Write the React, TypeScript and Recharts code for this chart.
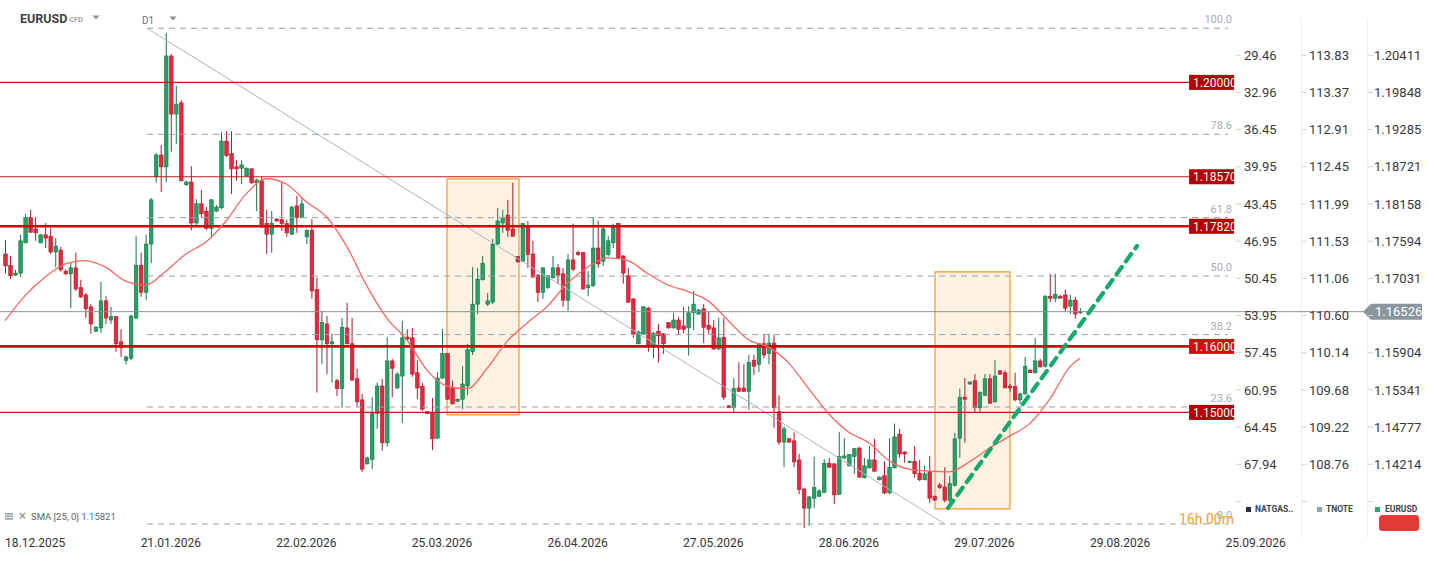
import React from "react";
import {
  ComposedChart,
  Bar,
  Line,
  XAxis,
  YAxis,
  ReferenceLine,
  ReferenceArea,
} from "recharts";

// EURUSD D1 candles, [open, high, low, close], oldest first
const candles: [number, number, number, number][] = [
  [1.1740, 1.1761, 1.1711, 1.1722], [1.1723, 1.1737, 1.1702, 1.1707], [1.1708, 1.1716, 1.1707, 1.1711],
  [1.1711, 1.1769, 1.1705, 1.1760], [1.1757, 1.1801, 1.1756, 1.1795], [1.1795, 1.1807, 1.1772, 1.1773],
  [1.1778, 1.1796, 1.1760, 1.1772], [1.1757, 1.1770, 1.1756, 1.1769], [1.1769, 1.1787, 1.1749, 1.1764],
  [1.1767, 1.1779, 1.1740, 1.1743], [1.1743, 1.1764, 1.1720, 1.1752], [1.1746, 1.1751, 1.1713, 1.1716],
  [1.1714, 1.1717, 1.1708, 1.1710], [1.1710, 1.1728, 1.1658, 1.1719], [1.1719, 1.1742, 1.1684, 1.1687],
  [1.1689, 1.1701, 1.1673, 1.1675], [1.1678, 1.1681, 1.1643, 1.1657], [1.1660, 1.1664, 1.1619, 1.1634],
  [1.1623, 1.1631, 1.1622, 1.1629], [1.1628, 1.1698, 1.1620, 1.1669], [1.1669, 1.1676, 1.1634, 1.1643],
  [1.1640, 1.1660, 1.1634, 1.1645], [1.1645, 1.1646, 1.1592, 1.1604], [1.1607, 1.1626, 1.1584, 1.1598],
  [1.1579, 1.1586, 1.1573, 1.1584], [1.1582, 1.1648, 1.1579, 1.1646], [1.1643, 1.1767, 1.1641, 1.1723],
  [1.1723, 1.1742, 1.1675, 1.1682], [1.1682, 1.1769, 1.1670, 1.1755], [1.1755, 1.1825, 1.1726, 1.1822],
  [1.1857, 1.1893, 1.1848, 1.1890], [1.1890, 1.1905, 1.1834, 1.1872], [1.1872, 1.2075, 1.1849, 1.2040],
  [1.2040, 1.2043, 1.1895, 1.1952], [1.1952, 1.1995, 1.1907, 1.1967], [1.1969, 1.1973, 1.1850, 1.1851],
  [1.1845, 1.1851, 1.1843, 1.1849], [1.1849, 1.1873, 1.1776, 1.1787], [1.1787, 1.1823, 1.1781, 1.1816],
  [1.1816, 1.1837, 1.1795, 1.1801], [1.1805, 1.1811, 1.1776, 1.1779], [1.1779, 1.1823, 1.1764, 1.1822],
  [1.1805, 1.1814, 1.1804, 1.1811], [1.1810, 1.1925, 1.1808, 1.1911], [1.1911, 1.1926, 1.1887, 1.1889],
  [1.1892, 1.1926, 1.1831, 1.1869], [1.1872, 1.1882, 1.1851, 1.1869], [1.1870, 1.1882, 1.1846, 1.1875],
  [1.1858, 1.1871, 1.1857, 1.1870], [1.1869, 1.1870, 1.1846, 1.1848], [1.1848, 1.1854, 1.1805, 1.1852],
  [1.1851, 1.1857, 1.1780, 1.1781], [1.1786, 1.1807, 1.1740, 1.1770], [1.1770, 1.1805, 1.1742, 1.1786],
  [1.1793, 1.1794, 1.1789, 1.1790], [1.1792, 1.1848, 1.1775, 1.1786], [1.1786, 1.1792, 1.1766, 1.1772],
  [1.1770, 1.1813, 1.1769, 1.1811], [1.1813, 1.1828, 1.1772, 1.1795], [1.1795, 1.1825, 1.1794, 1.1816],
  [1.1766, 1.1777, 1.1755, 1.1776], [1.1776, 1.1793, 1.1672, 1.1684], [1.1686, 1.1704, 1.1530, 1.1610],
  [1.1610, 1.1654, 1.1573, 1.1636], [1.1634, 1.1646, 1.1558, 1.1604], [1.1604, 1.1619, 1.1545, 1.1607],
  [1.1548, 1.1551, 1.1525, 1.1536], [1.1536, 1.1643, 1.1507, 1.1629], [1.1628, 1.1666, 1.1603, 1.1604],
  [1.1604, 1.1643, 1.1548, 1.1549], [1.1551, 1.1566, 1.1508, 1.1516], [1.1519, 1.1528, 1.1410, 1.1414],
  [1.1422, 1.1433, 1.1421, 1.1431], [1.1429, 1.1523, 1.1414, 1.1498], [1.1498, 1.1545, 1.1475, 1.1540],
  [1.1540, 1.1551, 1.1442, 1.1454], [1.1454, 1.1614, 1.1448, 1.1578], [1.1578, 1.1581, 1.1523, 1.1567],
  [1.1537, 1.1561, 1.1536, 1.1558], [1.1555, 1.1639, 1.1484, 1.1613], [1.1614, 1.1626, 1.1608, 1.1611],
  [1.1613, 1.1628, 1.1554, 1.1558], [1.1560, 1.1579, 1.1520, 1.1537], [1.1539, 1.1545, 1.1502, 1.1505],
  [1.1501, 1.1502, 1.1498, 1.1498], [1.1499, 1.1522, 1.1443, 1.1460], [1.1461, 1.1561, 1.1460, 1.1552],
  [1.1552, 1.1626, 1.1551, 1.1589], [1.1589, 1.1590, 1.1519, 1.1520], [1.1537, 1.1548, 1.1512, 1.1513],
  [1.1517, 1.1521, 1.1516, 1.1520], [1.1520, 1.1570, 1.1505, 1.1543], [1.1540, 1.1604, 1.1526, 1.1595],
  [1.1592, 1.1720, 1.1587, 1.1664], [1.1664, 1.1719, 1.1649, 1.1702], [1.1701, 1.1737, 1.1700, 1.1726],
  [1.1664, 1.1681, 1.1661, 1.1669], [1.1667, 1.1763, 1.1664, 1.1755], [1.1755, 1.1810, 1.1754, 1.1790],
  [1.1787, 1.1807, 1.1772, 1.1795], [1.1799, 1.1822, 1.1766, 1.1776], [1.1778, 1.1848, 1.1766, 1.1767],
  [1.1736, 1.1737, 1.1727, 1.1728], [1.1729, 1.1787, 1.1728, 1.1786], [1.1782, 1.1790, 1.1719, 1.1739],
  [1.1740, 1.1760, 1.1704, 1.1705], [1.1708, 1.1710, 1.1667, 1.1682], [1.1682, 1.1720, 1.1672, 1.1719],
  [1.1689, 1.1708, 1.1687, 1.1707], [1.1704, 1.1737, 1.1703, 1.1719], [1.1719, 1.1725, 1.1695, 1.1708],
  [1.1710, 1.1719, 1.1660, 1.1670], [1.1670, 1.1740, 1.1654, 1.1731], [1.1731, 1.1786, 1.1714, 1.1717],
  [1.1742, 1.1745, 1.1737, 1.1739], [1.1742, 1.1743, 1.1686, 1.1687], [1.1689, 1.1714, 1.1676, 1.1693],
  [1.1692, 1.1796, 1.1690, 1.1749], [1.1749, 1.1790, 1.1719, 1.1725], [1.1729, 1.1782, 1.1722, 1.1778],
  [1.1739, 1.1767, 1.1736, 1.1760], [1.1757, 1.1786, 1.1749, 1.1782], [1.1786, 1.1787, 1.1733, 1.1734],
  [1.1737, 1.1738, 1.1695, 1.1711], [1.1707, 1.1719, 1.1666, 1.1667], [1.1672, 1.1673, 1.1613, 1.1619],
  [1.1604, 1.1624, 1.1603, 1.1622], [1.1619, 1.1661, 1.1618, 1.1660], [1.1658, 1.1660, 1.1592, 1.1602],
  [1.1601, 1.1622, 1.1582, 1.1620], [1.1623, 1.1634, 1.1575, 1.1616], [1.1619, 1.1620, 1.1589, 1.1604],
  [1.1636, 1.1637, 1.1627, 1.1628], [1.1628, 1.1651, 1.1627, 1.1640], [1.1640, 1.1645, 1.1617, 1.1626],
  [1.1631, 1.1660, 1.1620, 1.1626], [1.1628, 1.1661, 1.1586, 1.1651], [1.1651, 1.1684, 1.1625, 1.1664],
  [1.1649, 1.1657, 1.1648, 1.1655], [1.1657, 1.1664, 1.1605, 1.1629], [1.1632, 1.1652, 1.1619, 1.1626],
  [1.1628, 1.1640, 1.1595, 1.1596], [1.1596, 1.1643, 1.1595, 1.1613], [1.1614, 1.1643, 1.1519, 1.1523],
  [1.1510, 1.1511, 1.1507, 1.1507], [1.1507, 1.1552, 1.1499, 1.1536], [1.1537, 1.1576, 1.1531, 1.1532],
  [1.1537, 1.1573, 1.1531, 1.1532], [1.1532, 1.1587, 1.1504, 1.1576], [1.1579, 1.1587, 1.1557, 1.1570],
  [1.1573, 1.1605, 1.1561, 1.1604], [1.1604, 1.1619, 1.1582, 1.1587], [1.1589, 1.1619, 1.1573, 1.1605],
  [1.1605, 1.1617, 1.1476, 1.1507], [1.1501, 1.1526, 1.1451, 1.1455], [1.1455, 1.1479, 1.1417, 1.1475],
  [1.1460, 1.1461, 1.1454, 1.1455], [1.1457, 1.1470, 1.1417, 1.1425], [1.1428, 1.1437, 1.1376, 1.1383],
  [1.1384, 1.1386, 1.1325, 1.1355], [1.1355, 1.1373, 1.1328, 1.1372], [1.1370, 1.1433, 1.1355, 1.1386],
  [1.1373, 1.1384, 1.1372, 1.1381], [1.1379, 1.1429, 1.1378, 1.1423], [1.1423, 1.1431, 1.1416, 1.1417],
  [1.1422, 1.1423, 1.1361, 1.1375], [1.1376, 1.1470, 1.1375, 1.1433], [1.1431, 1.1461, 1.1429, 1.1434],
  [1.1419, 1.1437, 1.1418, 1.1436], [1.1433, 1.1446, 1.1407, 1.1445], [1.1446, 1.1448, 1.1401, 1.1402],
  [1.1401, 1.1431, 1.1400, 1.1419], [1.1416, 1.1449, 1.1415, 1.1428], [1.1428, 1.1460, 1.1410, 1.1411],
  [1.1398, 1.1403, 1.1397, 1.1402], [1.1404, 1.1426, 1.1376, 1.1378], [1.1378, 1.1461, 1.1376, 1.1417],
  [1.1416, 1.1483, 1.1415, 1.1463], [1.1467, 1.1475, 1.1431, 1.1437], [1.1440, 1.1441, 1.1424, 1.1437],
  [1.1424, 1.1427, 1.1423, 1.1426], [1.1426, 1.1449, 1.1401, 1.1407], [1.1408, 1.1428, 1.1396, 1.1398],
  [1.1398, 1.1420, 1.1397, 1.1407], [1.1410, 1.1434, 1.1363, 1.1370], [1.1373, 1.1374, 1.1366, 1.1367],
  [1.1390, 1.1393, 1.1384, 1.1386], [1.1387, 1.1417, 1.1364, 1.1367], [1.1367, 1.1404, 1.1364, 1.1392],
  [1.1389, 1.1469, 1.1388, 1.1460], [1.1461, 1.1536, 1.1431, 1.1523], [1.1523, 1.1552, 1.1454, 1.1520],
  [1.1543, 1.1547, 1.1542, 1.1546], [1.1548, 1.1558, 1.1499, 1.1507], [1.1507, 1.1532, 1.1501, 1.1530],
  [1.1526, 1.1558, 1.1525, 1.1551], [1.1551, 1.1558, 1.1513, 1.1514], [1.1516, 1.1579, 1.1515, 1.1555],
  [1.1563, 1.1564, 1.1557, 1.1558], [1.1560, 1.1564, 1.1537, 1.1537], [1.1540, 1.1543, 1.1531, 1.1537],
  [1.1539, 1.1560, 1.1517, 1.1519], [1.1519, 1.1530, 1.1513, 1.1528], [1.1528, 1.1584, 1.1527, 1.1570],
  [1.1564, 1.1566, 1.1560, 1.1560], [1.1560, 1.1613, 1.1559, 1.1578], [1.1578, 1.1581, 1.1568, 1.1569],
  [1.1570, 1.1678, 1.1568, 1.1676], [1.1676, 1.1710, 1.1667, 1.1673], [1.1673, 1.1710, 1.1667, 1.1679],
  [1.1676, 1.1678, 1.1673, 1.1673], [1.1678, 1.1686, 1.1652, 1.1658], [1.1661, 1.1678, 1.1649, 1.1670],
  [1.1670, 1.1675, 1.1642, 1.1649], [1.1651, 1.1658, 1.1649, 1.1653],
];

// SMA(25) at these candle indices
const smaAt = [
  0, 4, 8, 12, 16, 20, 24, 28, 32, 36, 40, 44, 48, 52, 56, 60, 64, 68, 72, 76, 80, 84, 88, 92, 96, 100,
  104, 108, 112, 116, 120, 124, 128, 132, 136, 140, 144, 148, 152, 156, 160, 164, 168, 172, 176, 180,
  184, 188, 192, 196, 200, 204, 208, 212, 214,
];
const smaValues = [
  1.1639, 1.1677, 1.1705, 1.1725, 1.1730, 1.1720, 1.1699, 1.1693, 1.1714, 1.1740, 1.1758, 1.1790,
  1.1831, 1.1854, 1.1846, 1.1819, 1.1796, 1.1752, 1.1692, 1.1643, 1.1610, 1.1564, 1.1540, 1.1536,
  1.1567, 1.1608, 1.1636, 1.1661, 1.1696, 1.1720, 1.1734, 1.1730, 1.1710, 1.1693, 1.1683, 1.1669,
  1.1639, 1.1610, 1.1599, 1.1575, 1.1536, 1.1498, 1.1470, 1.1454, 1.1427, 1.1414, 1.1411, 1.1410,
  1.1425, 1.1446, 1.1464, 1.1483, 1.1520, 1.1569, 1.1582,
];

const dateTicks = [6, 33, 60, 87, 114, 141, 168, 195, 222, 249];
const dateLabels = [
  "18.12.2025", "21.01.2026", "22.02.2026", "25.03.2026", "26.04.2026",
  "27.05.2026", "28.06.2026", "29.07.2026", "29.08.2026", "25.09.2026",
];

const eurusdTicks = [
  1.20411, 1.19848, 1.19285, 1.18721, 1.18158, 1.17594, 1.17031, 1.16468, 1.15904, 1.15341,
  1.14777, 1.14214, 1.13651,
];
const eurusdLabels = [
  "1.20411", "1.19848", "1.19285", "1.18721", "1.18158", "1.17594", "1.17031", "", "1.15904",
  "1.15341", "1.14777", "1.14214", "",
];
const tnoteLabels = [
  "113.83", "113.37", "112.91", "112.45", "111.99", "111.53", "111.06", "110.60", "110.14",
  "109.68", "109.22", "108.76", "",
];
const natgasLabels = [
  "29.46", "32.96", "36.45", "39.95", "43.45", "46.95", "50.45", "53.95", "57.45", "60.95",
  "64.45", "67.94", "",
];

const levels = [1.2, 1.1857, 1.1782, 1.16, 1.15];
const levelLabels = ["1.20000", "1.18570", "1.17820", "1.16000", "1.15000"];

const fibLevels = [1.2082, 1.19213, 1.17951, 1.17065, 1.16179, 1.15082, 1.1331];
const fibLabels = ["100.0", "78.6", "61.8", "50.0", "38.2", "23.6", "0.0"];

const lastPrice = 1.16526;
const smaLast = 1.15821;

// drawing-tool anchors, [candle index, price]
const fibFrom: [number, number] = [28.27, 1.2082];
const fibTo: [number, number] = [187.14, 1.1331];
const trendFrom: [number, number] = [187.74, 1.13553];
const trendTo: [number, number] = [225.37, 1.17522];
const zoneA = { x1: 87.99, x2: 102.33, y1: 1.14962, y2: 1.18537 };
const zoneB = { x1: 185.15, x2: 200.08, y1: 1.13538, y2: 1.17128 };

const X_DOMAIN: [number, number] = [-1, 284.3];
const Y_DOMAIN: [number, number] = [1.132185, 1.21248];
const PLOT_END = 243.5;
const PRICE_END = 270.96;

const rows = candles.map(([o, h, l, c], i) => ({ i, o, h, l, c }));
const smaData = smaAt.map((i, k) => ({ i, v: smaValues[k] }));

const UP_FILL = "#26a065";
const UP_LINE = "#17744a";
const DOWN_FILL = "#e5283c";
const DOWN_LINE = "#b3172b";

function Candle(props: any) {
  const { x, y, width, height, payload } = props;
  if (x == null || y == null || !payload) return null;
  const { o, h, l, c } = payload;
  const top = Math.min(y, y + height);
  const span = Math.abs(height);
  const at = (v: number) => (h > l ? top + ((h - v) / (h - l)) * span : top);
  const cx = x + width / 2;
  const up = c >= o;
  const y1 = at(Math.max(o, c));
  const bodyH = Math.max(1, at(Math.min(o, c)) - y1);
  const line = up ? UP_LINE : DOWN_LINE;
  return (
    <g>
      <line x1={cx} x2={cx} y1={top} y2={top + span} stroke={line} strokeWidth={1} />
      <rect
        x={cx - 1.8}
        y={y1}
        width={3.6}
        height={bodyH}
        fill={up ? UP_FILL : DOWN_FILL}
        stroke={line}
        strokeWidth={0.6}
      />
    </g>
  );
}

const levelTag = (text: string, color: string) => (p: any) => {
  const vb = p.viewBox || {};
  const right = vb.x + vb.width;
  return (
    <g>
      <rect x={right - 39} y={vb.y - 7.5} width={45} height={15} fill={color} />
      <text x={right - 35} y={vb.y + 4.3} fontSize={12} fill="#fff">
        {text}
      </text>
    </g>
  );
};

const fibTag = (text: string) => (p: any) => {
  const vb = p.viewBox || {};
  return (
    <text x={vb.x + vb.width + 4} y={vb.y - 5} textAnchor="end" fontSize={11} fill="#a3adb4">
      {text}
    </text>
  );
};

const priceTag = (p: any) => {
  const vb = p.viewBox || {};
  const ex = vb.x + vb.width;
  const cy = vb.y;
  return (
    <g>
      <polygon
        points={`${ex - 3},${cy} ${ex + 5},${cy - 8} ${ex + 56},${cy - 8} ${ex + 56},${cy + 8} ${ex + 5},${cy + 8}`}
        fill="#8b969c"
      />
      <text x={ex + 9} y={cy + 4.6} fontSize={13} fill="#fff">
        {lastPrice.toFixed(5)}
      </text>
    </g>
  );
};

function AxisTick(props: any) {
  const { y, payload } = props;
  const k = eurusdTicks.indexOf(payload.value);
  const txt = { fontSize: 13, fill: "#3a3a3a", dy: "0.36em" };
  return (
    <g>
      <line x1={1236} x2={1241} y1={y} y2={y} stroke="#d4d4d4" />
      <line x1={1302} x2={1307} y1={y} y2={y} stroke="#d4d4d4" />
      <line x1={1368} x2={1373} y1={y} y2={y} stroke="#d4d4d4" />
      <text x={1244} y={y} {...txt}>{natgasLabels[k]}</text>
      <text x={1309} y={y} {...txt}>{tnoteLabels[k]}</text>
      <text x={1374} y={y} {...txt}>{eurusdLabels[k]}</text>
    </g>
  );
}

export default function App() {
  return (
    <div style={{ position: "relative", width: 1434, height: 563, fontFamily: "Roboto, sans-serif", background: "#fff" }}>
      <style>{"body{margin:0}"}</style>
      <svg width={1434} height={563} style={{ position: "absolute", left: 0, top: 0 }}>
        <line x1={1301.5} x2={1301.5} y1={18} y2={538} stroke="#efefef" />
        <line x1={1367.5} x2={1367.5} y1={18} y2={538} stroke="#efefef" />
      </svg>
      <div style={{ position: "absolute", left: 0, top: 0 }}>
        <ComposedChart
          width={1434}
          height={563}
          data={rows}
          margin={{ top: 0, right: 0, left: 0, bottom: 0 }}
          style={{ fontFamily: "Roboto, sans-serif" }}
        >
          <XAxis
            type="number"
            dataKey="i"
            domain={X_DOMAIN}
            allowDataOverflow
            ticks={dateTicks}
            interval={0}
            tickFormatter={(v: number) => dateLabels[dateTicks.indexOf(v)] ?? ""}
            axisLine={false}
            tickLine={false}
            height={33}
            tick={{ fill: "#333", fontSize: 12 }}
          />
          <YAxis
            orientation="right"
            type="number"
            width={1}
            domain={Y_DOMAIN}
            allowDataOverflow
            ticks={eurusdTicks}
            interval={0}
            axisLine={false}
            tickLine={false}
            tick={(p: any) => <AxisTick {...p} />}
          />
          <ReferenceArea {...zoneA} fill="#f8c88c" fillOpacity={0.25} stroke="#f59a23" strokeWidth={1.2} ifOverflow="visible" />
          <ReferenceArea {...zoneB} fill="#f8c88c" fillOpacity={0.25} stroke="#f59a23" strokeWidth={1.2} ifOverflow="visible" />
          {fibLevels.map((v, k) => (
            <ReferenceLine
              key={`fib${k}`}
              segment={[{ x: fibFrom[0], y: v }, { x: PLOT_END, y: v }]}
              stroke="#92a2ac"
              strokeDasharray="6 5"
              ifOverflow="visible"
              label={fibTag(fibLabels[k])}
            />
          ))}
          <ReferenceLine
            segment={[{ x: fibFrom[0], y: fibFrom[1] }, { x: fibTo[0], y: fibTo[1] }]}
            stroke="#a9b5bd"
            ifOverflow="visible"
          />
          {levels.map((v, k) => (
            <ReferenceLine
              key={`lvl${k}`}
              segment={[{ x: X_DOMAIN[0], y: v }, { x: PLOT_END, y: v }]}
              stroke={k === 2 || k === 3 ? "#c40f0f" : "#b81c1c"}
              strokeWidth={k === 2 || k === 3 ? 2.6 : 1.2}
              ifOverflow="visible"
              label={levelTag(levelLabels[k], k === 3 ? "#d40a0a" : "#b00000")}
            />
          ))}
          <ReferenceLine
            segment={[{ x: X_DOMAIN[0], y: lastPrice }, { x: PRICE_END, y: lastPrice }]}
            stroke="#8a9399"
            ifOverflow="visible"
            label={priceTag}
          />
          <Bar
            dataKey={(d: any) => [d.l, d.h]}
            barSize={4}
            shape={(p: any) => <Candle {...p} />}
            isAnimationActive={false}
          />
          <Line
            data={smaData}
            dataKey="v"
            type="monotone"
            stroke="#ef6a62"
            strokeWidth={1.3}
            dot={false}
            activeDot={false}
            isAnimationActive={false}
          />
          <ReferenceLine
            segment={[{ x: trendFrom[0], y: trendFrom[1] }, { x: trendTo[0], y: trendTo[1] }]}
            stroke="#15a96c"
            strokeWidth={4.2}
            strokeDasharray="9 7"
            strokeLinecap="round"
            ifOverflow="visible"
          />
        </ComposedChart>
      </div>
      <svg width={1434} height={563} style={{ position: "absolute", left: 0, top: 0, pointerEvents: "none" }}>
        <text x={20} y={23} fontSize={12.5} fontWeight={700} fill="#3c4348">EURUSD</text>
        <text x={69} y={22} fontSize={7.5} fontWeight={700} fill="#a0a7ac">CFD</text>
        <polygon points="92.5,15.5 99.5,15.5 96,19.5" fill="#8a9196" />
        <text x={142} y={24} fontSize={10} fill="#6b7378">D1</text>
        <polygon points="169.5,16.5 176.5,16.5 173,20.5" fill="#8a9196" />

        <rect x={5} y={513} width={8} height={1.6} fill="#9aa1a6" />
        <rect x={5} y={515.5} width={8} height={1.6} fill="#9aa1a6" />
        <rect x={5} y={518} width={8} height={1.6} fill="#9aa1a6" />
        <line x1={20} y1={513} x2={25} y2={518.5} stroke="#9aa1a6" strokeWidth={1.6} />
        <line x1={25} y1={513} x2={20} y2={518.5} stroke="#9aa1a6" strokeWidth={1.6} />
        <text x={31} y={520} fontSize={9.5} fill="#5d6469">{`SMA [25, 0] ${smaLast.toFixed(5)}`}</text>

        <text x={1179} y={524} fontSize={14} fill="#f6a11e">16h 00m</text>

        <rect x={1246} y={507} width={5} height={5} fill="#2b3237" />
        <text x={1255} y={512} fontSize={8.5} fontWeight={700} fill="#3d454b">NATGAS..</text>
        <rect x={1317} y={507} width={5} height={5} fill="#93a2ab" />
        <text x={1326} y={512} fontSize={8.5} fontWeight={700} fill="#3d454b">TNOTE</text>
        <rect x={1375} y={507} width={5} height={5} fill="#22ae6e" />
        <text x={1385} y={512} fontSize={8.5} fontWeight={700} fill="#3d454b">EURUSD</text>
        <rect x={1379} y={515} width={40} height={16} rx={3.5} fill="#e53935" />
      </svg>
    </div>
  );
}
